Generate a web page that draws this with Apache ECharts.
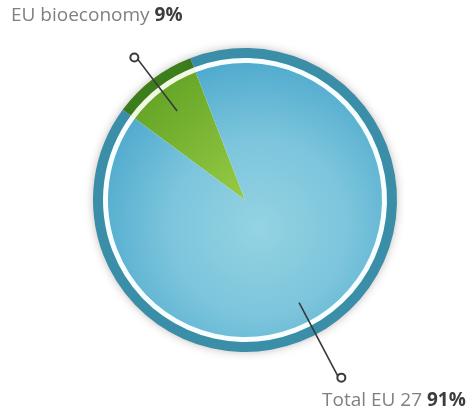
<!DOCTYPE html>
<html>
<head>
<meta charset="utf-8">
<script src="https://cdn.jsdelivr.net/npm/echarts@6/dist/echarts.min.js"></script>
<style>
  html, body { margin: 0; background: #fff; }
  #chart { width: 471px; height: 416px; }
</style>
</head>
<body>
<div id="chart"></div>
<script>
// data
const sectors = ['EU bioeconomy', 'Total EU 27'];
const shares = [9, 91];

const chart = echarts.init(document.getElementById('chart'));
const center = [245, 200];
const startAngle = 143.5;
const hidden = 'rgba(0,0,0,0)';

function build(colors, extra) {
  return sectors.map(function (name, i) {
    const item = { name: name, value: shares[i], itemStyle: { color: colors[i] } };
    return Object.assign(item, extra ? extra(i) : {});
  });
}

const greenFill = new echarts.graphic.LinearGradient(0, 0, 1, 1, [
  { offset: 0, color: '#5b9d20' },
  { offset: 1, color: '#97cb45' }
]);
const blueFill = new echarts.graphic.RadialGradient(0.55, 0.6, 0.65, [
  { offset: 0, color: '#94d3e2' },
  { offset: 0.5, color: '#7cc5dc' },
  { offset: 1, color: '#4aa7cc' }
]);

// leader line ending in a small open circle
function leader(idx, len, pad) {
  return function (i) {
    if (i !== idx) return { label: { show: false }, labelLine: { show: false } };
    return { label: { show: true, padding: pad }, labelLine: { show: true, length: len } };
  };
}
const dot = {
  width: 6, height: 6, borderRadius: 5,
  borderWidth: 2, borderColor: '#3a3a3a', backgroundColor: '#fff'
};
const base = {
  type: 'pie',
  center: center,
  startAngle: startAngle,
  clockwise: true,
  avoidLabelOverlap: false,
  silent: true,
  animation: false
};

const option = {
  animation: false,
  series: [
    Object.assign({}, base, {
      name: 'ring',
      radius: [141, 152],
      label: { show: false },
      itemStyle: { shadowBlur: 8, shadowColor: 'rgba(90,60,60,0.35)' },
      data: build(['#3c7e1b', '#3a8ea7'])
    }),
    Object.assign({}, base, {
      name: 'gap',
      radius: [137, 142],
      label: { show: false },
      data: build(['#f2f9e2', '#f6feff'])
    }),
    Object.assign({}, base, {
      name: 'share',
      radius: [0, 137],
      label: { show: false },
      data: build([greenFill, blueFill])
    }),
    Object.assign({}, base, {
      name: 'leaderBio',
      radius: 112,
      z: 5,
      label: { position: 'outside', formatter: '{d|}', rich: { d: dot }, distanceToLabelLine: 0 },
      labelLine: { length2: 1, lineStyle: { color: '#3a3a3a', width: 1.6 } },
      data: build([hidden, hidden], leader(0, 64, [0, 0, 5, 0]))
    }),
    Object.assign({}, base, {
      name: 'leaderTotal',
      radius: 116,
      startAngle: 134,
      z: 5,
      label: { position: 'outside', formatter: '{d|}', rich: { d: dot }, distanceToLabelLine: 0 },
      labelLine: { length2: 1, lineStyle: { color: '#3a3a3a', width: 1.6 } },
      data: build([hidden, hidden], leader(1, 82, [5, 0, 0, 0]))
    }),
    Object.assign({}, base, {
      name: 'text',
      radius: 100,
      z: 6,
      labelLine: { show: false },
      label: {
        show: true,
        position: 'outside',
        formatter: function (p) { return '{n|' + p.name + ' }{v|' + p.value + '%}'; },
        rich: {
          n: { fontFamily: 'Open Sans', fontSize: 19, color: '#808080' },
          v: { fontFamily: 'Open Sans', fontSize: 19, fontWeight: 'bold', color: '#3c3c3c' }
        }
      },
      labelLayout: function (p) {
        return p.dataIndex === 0
          ? { x: 11, y: 16, align: 'left', verticalAlign: 'middle' }
          : { x: 322, y: 401, align: 'left', verticalAlign: 'middle' };
      },
      data: build([hidden, hidden])
    })
  ]
};
chart.setOption(option);
</script>
</body>
</html>
